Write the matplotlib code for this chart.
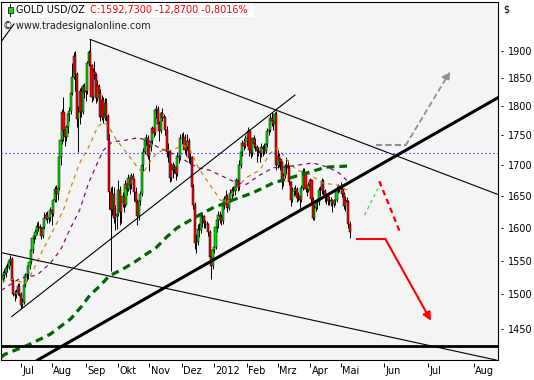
import numpy as np
import pandas as pd
import matplotlib
matplotlib.use("Agg")
import matplotlib.pyplot as plt
from matplotlib.ticker import NullLocator
from matplotlib.transforms import ScaledTranslation, blended_transform_factory
from matplotlib.lines import Line2D
from matplotlib.patches import Rectangle

plt.rcParams['font.family'] = ['DejaVu Sans']

# ---- daily bars 15.06.2011 .. 09.05.2012 (weekdays) ----
FIRST_DAY, LAST_DAY, ORIGIN_DAY = '2011-06-15', '2012-05-09', '2011-07-01'

opens = [
    1522, 1528, 1531, 1539, 1541, 1549, 1552, 1520, 1501, 1499, 1503, 1512,
    1501, 1485, 1489, 1514, 1529, 1530, 1542, 1548, 1566, 1585, 1587, 1593, 1603, 1601, 1599, 1588, 1601, 1615, 1620, 1614, 1615,
    1628, 1622, 1644, 1662, 1654, 1663, 1713, 1742, 1790, 1760, 1748, 1764, 1786, 1792, 1824, 1852, 1891, 1858, 1778, 1790, 1827, 1790, 1836,
    1825, 1827, 1877, 1898, 1873, 1817, 1862, 1856, 1815, 1836, 1823, 1782, 1812, 1780, 1806, 1783, 1742, 1657, 1628, 1653, 1616, 1619,
    1622, 1660, 1625, 1641, 1650, 1636, 1670, 1662, 1680, 1668, 1682, 1677, 1656, 1641, 1618, 1642, 1653, 1700, 1722, 1742, 1745,
    1716, 1731, 1740, 1762, 1754, 1793, 1795, 1770, 1758, 1788, 1780, 1782, 1760, 1722, 1723, 1680, 1700, 1693, 1697, 1686, 1716, 1713,
    1746, 1745, 1747, 1725, 1731, 1741, 1712, 1713, 1665, 1636, 1577, 1578, 1598, 1596, 1618, 1618, 1608, 1606, 1606, 1593, 1556, 1542,
    1566, 1570, 1601, 1612, 1620, 1617, 1610, 1636, 1645, 1650, 1631, 1645, 1655, 1660, 1658, 1665, 1676, 1665, 1700, 1722, 1738, 1732,
    1740, 1746, 1758, 1725, 1721, 1745, 1735, 1730, 1724, 1723, 1720, 1730, 1727, 1723, 1735, 1758, 1760, 1780, 1775, 1770, 1786,
    1700, 1715, 1710, 1705, 1672, 1683, 1699, 1700, 1696, 1673, 1643, 1658, 1658, 1662, 1647, 1650, 1643, 1663, 1690, 1685, 1661, 1660,
    1668, 1676, 1646, 1615, 1631, 1640, 1640, 1660, 1660, 1675, 1658, 1650, 1650, 1642, 1642, 1643, 1637, 1642, 1643, 1662, 1663,
    1664, 1662, 1653, 1635, 1643, 1640, 1606,
]
highs = [
    1534, 1538, 1543, 1546, 1553, 1558, 1555, 1524, 1506, 1508, 1516, 1517,
    1504, 1494, 1517, 1532, 1536, 1545, 1555, 1570, 1589, 1592, 1598, 1609, 1610, 1606, 1602, 1604, 1624, 1624, 1626, 1620, 1632,
    1631, 1646, 1667, 1668, 1683, 1720, 1782, 1796, 1816, 1765, 1768, 1792, 1799, 1830, 1877, 1898, 1900, 1862, 1800, 1832, 1835, 1840, 1842,
    1838, 1882, 1901, 1921, 1876, 1868, 1881, 1860, 1846, 1840, 1830, 1820, 1816, 1814, 1815, 1786, 1752, 1665, 1666, 1664, 1636, 1628,
    1676, 1666, 1646, 1656, 1657, 1676, 1677, 1685, 1684, 1687, 1688, 1678, 1664, 1646, 1646, 1658, 1706, 1728, 1748, 1752, 1750,
    1735, 1748, 1766, 1770, 1796, 1803, 1800, 1774, 1791, 1797, 1786, 1784, 1766, 1738, 1726, 1704, 1706, 1702, 1706, 1722, 1724, 1753,
    1755, 1756, 1752, 1735, 1752, 1746, 1720, 1716, 1670, 1640, 1590, 1606, 1608, 1622, 1625, 1620, 1612, 1610, 1608, 1596, 1560, 1570,
    1572, 1612, 1614, 1626, 1626, 1622, 1640, 1650, 1660, 1653, 1650, 1662, 1664, 1667, 1670, 1680, 1678, 1708, 1728, 1742, 1745, 1750,
    1752, 1764, 1761, 1730, 1748, 1750, 1745, 1734, 1730, 1727, 1738, 1734, 1738, 1740, 1762, 1765, 1786, 1790, 1778, 1790, 1792,
    1726, 1720, 1712, 1706, 1688, 1702, 1714, 1708, 1700, 1675, 1664, 1665, 1668, 1664, 1656, 1654, 1668, 1695, 1696, 1688, 1666, 1672,
    1680, 1678, 1648, 1636, 1644, 1646, 1664, 1666, 1680, 1678, 1662, 1655, 1654, 1650, 1648, 1645, 1645, 1650, 1666, 1670, 1668,
    1672, 1664, 1656, 1650, 1648, 1643, 1610,
]
lows = [
    1518, 1522, 1526, 1533, 1537, 1543, 1515, 1497, 1491, 1494, 1499, 1497,
    1480, 1482, 1486, 1510, 1520, 1523, 1538, 1545, 1562, 1577, 1583, 1590, 1595, 1592, 1582, 1585, 1598, 1612, 1608, 1607, 1611,
    1605, 1618, 1640, 1640, 1643, 1660, 1700, 1735, 1740, 1733, 1740, 1755, 1775, 1786, 1820, 1848, 1828, 1765, 1722, 1770, 1782, 1786, 1815,
    1810, 1822, 1872, 1842, 1808, 1812, 1848, 1806, 1810, 1812, 1774, 1776, 1772, 1776, 1775, 1725, 1630, 1535, 1620, 1608, 1596, 1598,
    1618, 1605, 1608, 1632, 1624, 1632, 1652, 1658, 1654, 1662, 1668, 1642, 1636, 1604, 1612, 1636, 1650, 1690, 1718, 1734, 1710,
    1690, 1724, 1735, 1748, 1750, 1780, 1762, 1740, 1754, 1774, 1768, 1750, 1714, 1706, 1672, 1675, 1680, 1688, 1676, 1682, 1704, 1708,
    1736, 1736, 1718, 1716, 1725, 1704, 1702, 1658, 1630, 1568, 1562, 1573, 1586, 1592, 1602, 1600, 1600, 1600, 1588, 1550, 1523, 1538,
    1562, 1568, 1594, 1600, 1608, 1604, 1606, 1630, 1638, 1624, 1628, 1640, 1645, 1650, 1652, 1660, 1658, 1660, 1696, 1715, 1725, 1728,
    1733, 1740, 1716, 1712, 1716, 1728, 1724, 1706, 1716, 1705, 1714, 1716, 1718, 1720, 1730, 1750, 1756, 1766, 1760, 1764, 1692,
    1696, 1698, 1692, 1662, 1666, 1680, 1686, 1690, 1668, 1635, 1640, 1650, 1652, 1640, 1642, 1628, 1640, 1660, 1680, 1656, 1650, 1656,
    1662, 1640, 1612, 1612, 1626, 1630, 1636, 1650, 1654, 1652, 1640, 1638, 1636, 1636, 1635, 1625, 1632, 1636, 1640, 1655, 1656,
    1655, 1648, 1630, 1626, 1632, 1600, 1585,
]
closes = [
    1528, 1531, 1539, 1541, 1549, 1552, 1520, 1501, 1499, 1503, 1512, 1501,
    1485, 1489, 1514, 1529, 1530, 1542, 1548, 1566, 1585, 1587, 1593, 1603, 1601, 1599, 1588, 1601, 1615, 1620, 1614, 1615, 1628,
    1622, 1644, 1662, 1654, 1663, 1713, 1742, 1790, 1760, 1748, 1764, 1786, 1792, 1824, 1852, 1891, 1858, 1778, 1790, 1827, 1790, 1836, 1825,
    1827, 1877, 1898, 1873, 1817, 1862, 1856, 1815, 1836, 1823, 1782, 1812, 1780, 1806, 1783, 1742, 1657, 1628, 1653, 1616, 1619, 1622,
    1660, 1625, 1641, 1650, 1636, 1670, 1662, 1680, 1668, 1682, 1677, 1656, 1641, 1618, 1642, 1653, 1700, 1722, 1742, 1745, 1716,
    1731, 1740, 1762, 1754, 1793, 1795, 1770, 1758, 1788, 1780, 1782, 1760, 1722, 1723, 1680, 1700, 1693, 1697, 1686, 1716, 1713, 1746,
    1745, 1747, 1725, 1731, 1741, 1712, 1713, 1665, 1636, 1577, 1578, 1598, 1596, 1618, 1618, 1608, 1606, 1606, 1593, 1556, 1542, 1566,
    1570, 1601, 1612, 1620, 1617, 1610, 1636, 1645, 1650, 1631, 1645, 1655, 1660, 1658, 1665, 1676, 1665, 1700, 1722, 1738, 1732, 1740,
    1746, 1758, 1725, 1721, 1745, 1735, 1730, 1724, 1723, 1720, 1730, 1727, 1723, 1735, 1758, 1760, 1780, 1775, 1770, 1786, 1700,
    1715, 1710, 1705, 1672, 1683, 1699, 1700, 1696, 1673, 1643, 1658, 1658, 1662, 1647, 1650, 1643, 1663, 1690, 1685, 1661, 1660, 1668,
    1676, 1646, 1615, 1631, 1640, 1640, 1660, 1660, 1675, 1658, 1650, 1650, 1642, 1642, 1643, 1637, 1642, 1643, 1662, 1663, 1664,
    1662, 1653, 1635, 1643, 1640, 1606, 1593,
]

# moving averages, read at some bars (bar number counted from 01.07.2011)
ma_green_x = [-13, -11, 5, 20, 34, 41, 47, 54, 60, 69, 76, 86, 92, 99, 106, 121, 130, 144, 157, 171, 189, 207, 223]
ma_green = [1411, 1415, 1428, 1443, 1465, 1482, 1499, 1513, 1527, 1537, 1546, 1561, 1570, 1586, 1600, 1620, 1631,
            1644, 1655, 1671, 1684, 1697, 1699]
ma_orange_x = [-13, -5, 3, 8, 15, 22, 29, 35, 40, 46, 52, 56, 60, 65, 72, 79, 83, 86, 91, 96, 103, 110, 115,
               120, 126, 132, 135, 140, 145, 153, 162, 169, 174, 178, 182, 187, 194, 205, 214, 221, 223]
ma_orange = [1519, 1522, 1516, 1533, 1566, 1596, 1628, 1671, 1704, 1730, 1764, 1773, 1764, 1742, 1720, 1697, 1687,
             1700, 1717, 1725, 1725, 1734, 1725, 1697, 1676, 1655, 1644, 1640, 1660, 1680, 1692, 1720, 1729, 1717,
             1704, 1692, 1687, 1671, 1668, 1660, 1657]
ma_purple_x = [-13, 0, 11, 20, 27, 33, 40, 46, 52, 56, 62, 71, 79, 86, 93, 101, 110, 120, 128, 135, 142, 147, 153,
               162, 171, 178, 187, 198, 208, 216, 222]
ma_purple = [1506, 1524, 1528, 1546, 1566, 1596, 1628, 1671, 1704, 1725, 1739, 1742, 1746, 1742, 1730, 1722, 1710,
             1696, 1692, 1684, 1676, 1671, 1669, 1684, 1696, 1697, 1700, 1704, 1697, 1687, 1673]

# drawn lines: (bar, price) anchors
down_line = [(47, 1921), (324, 1652)]
channel_line = [(-6.1, 1468), (185.8, 1820)]
corner_line = [(-12.9, 1918), (-4.5, 1950)]
low_line = [(-7, 1559), (169, 1476)]
up_trend = [(129, 1549), (300, 1781)]
support_level = 1427
dotted_level = 1720

# projections (dates after last bar)
green_proj = [('2012-05-19', 1620), ('2012-05-31', 1676)]
red_proj = [('2012-05-29', 1674), ('2012-06-12', 1593)]
red_arrow = [('2012-05-14', 1583), ('2012-06-02', 1583), ('2012-07-03', 1462)]
gray_arrow = [('2012-05-27', 1734), ('2012-06-16', 1734), ('2012-07-16', 1862)]

month_starts = ['2011-07-01', '2011-08-01', '2011-09-01', '2011-10-03', '2011-11-01', '2011-12-01', '2012-01-02',
                '2012-02-01', '2012-03-01', '2012-04-02', '2012-05-01', '2012-06-01', '2012-07-01', '2012-08-01']
month_labels = ['Jul', 'Aug', 'Sep', 'Okt', 'Nov', 'Dez', '2012', 'Feb', 'Mrz', 'Apr', 'Mai', 'Jun', 'Jul', 'Aug']
price_ticks = [1450, 1500, 1550, 1600, 1650, 1700, 1750, 1800, 1850, 1900]

days = pd.bdate_range(FIRST_DAY, LAST_DAY)
origin = days.get_loc(pd.Timestamp(ORIGIN_DAY))
last_bar = len(days) - 1 - origin


def bar_pos(day):
    d = pd.Timestamp(day)
    if d <= days[-1]:
        return days.get_loc(d) - origin
    # future area is in calendar days
    return last_bar + (d - days[-1]).days


fig = plt.figure(figsize=(5.34, 3.80), dpi=100)
ax = fig.add_axes([1.3 / 534, 20 / 380, 497 / 534, 358.3 / 380])
ax.set_facecolor('#F4F4F4')
ax.set_yscale('log')
ax.set_ylim(1407.4, 1992.5)
ax.set_xlim(-13.14, 323.6)
for s in ax.spines.values():
    s.set_linewidth(0.8)

# candles
o = np.array(opens, float)
h = np.array(highs, float)
l = np.array(lows, float)
c = np.array(closes, float)
x = np.arange(len(c)) - origin
up = c >= o
ax.vlines(x, l, h, color='black', lw=0.7, zorder=2)
ax.bar(x[up], (c - o)[up], bottom=o[up], width=1.45, color='#00E000', edgecolor='black', linewidth=0.35, zorder=3)
ax.bar(x[~up], (o - c)[~up], bottom=c[~up], width=1.45, color='#FF0000', edgecolor='black', linewidth=0.35, zorder=3)

# moving averages
ax.plot(ma_orange_x, ma_orange, color='#C88400', lw=0.85, dashes=(3.5, 3.5), zorder=4)
ax.plot(ma_purple_x, ma_purple, color='#800080', lw=0.85, dashes=(3.5, 3.5), zorder=4)
ax.plot(ma_green_x, ma_green, color='#006400', lw=2.3, dashes=(2.4, 1.6), zorder=4)

# trend lines
for seg in (down_line, channel_line, corner_line):
    ax.plot([p[0] for p in seg], [p[1] for p in seg], color='black', lw=0.8, zorder=5)
ax.axline(low_line[0], low_line[1], color='black', lw=0.8, zorder=5)
ax.axline(up_trend[0], up_trend[1], color='black', lw=2.2, zorder=5)
ax.axhline(support_level, color='black', lw=2.0, zorder=5)
ax.axhline(dotted_level, color='#0000CC', lw=0.8, dashes=(1, 2.6), zorder=5)

# projections
ax.plot([bar_pos(d) for d, _ in green_proj], [p for _, p in green_proj], color='#33CC33', lw=0.8,
        dashes=(3, 3), zorder=6)
ax.plot([bar_pos(d) for d, _ in red_proj], [p for _, p in red_proj], color='#FF0000', lw=1.6,
        dashes=(2.5, 1.8), zorder=6)
ax.plot([bar_pos(d) for d, _ in red_arrow[:2]], [p for _, p in red_arrow[:2]], color='#FF0000', lw=1.5, zorder=6)
ax.annotate('', xy=(bar_pos(red_arrow[2][0]), red_arrow[2][1]),
            xytext=(bar_pos(red_arrow[1][0]), red_arrow[1][1]),
            arrowprops=dict(arrowstyle='-|>', color='#FF0000', lw=1.5, mutation_scale=12,
                            shrinkA=0, shrinkB=0), zorder=6)
ax.plot([bar_pos(d) for d, _ in gray_arrow[:2]], [p for _, p in gray_arrow[:2]], color='#909090', lw=1.5,
        dashes=(3, 1.5), zorder=6)
ax.annotate('', xy=(bar_pos(gray_arrow[2][0]), gray_arrow[2][1]),
            xytext=(bar_pos(gray_arrow[1][0]), gray_arrow[1][1]),
            arrowprops=dict(arrowstyle='-|>', color='#909090', lw=1.3, mutation_scale=12,
                            linestyle=(0, (2.5, 2.5)), shrinkA=0, shrinkB=0), zorder=6)

# axes ticks
month_pos = [bar_pos(d) for d in month_starts]
ax.set_xticks(month_pos)
ax.set_xticklabels(month_labels, ha='left', fontsize=7)
ax.tick_params(axis='x', length=0, pad=4.5)
for lbl in ax.get_xticklabels():
    lbl.set_transform(lbl.get_transform() + ScaledTranslation(1.5 / 100, 0, fig.dpi_scale_trans))
tx = blended_transform_factory(ax.transData, ax.transAxes)
ax.vlines(month_pos, -7 / 358.3, -3 / 358.3, transform=tx, color='black', lw=0.7, clip_on=False)

ax.yaxis.tick_right()
ax.set_yticks(price_ticks)
ax.set_yticklabels([str(v) for v in price_ticks], fontsize=7)
ax.yaxis.set_minor_locator(NullLocator())
ax.tick_params(axis='y', length=0, pad=7)
ty = blended_transform_factory(ax.transAxes, ax.transData)
ax.hlines(price_ticks, 1 + 3 / 497, 1 + 5 / 497, transform=ty, color='black', lw=0.7, clip_on=False)
fig.text(503 / 534, 1 - 10 / 380, '$', fontsize=7, va='center')

# header
fig.add_artist(Rectangle((5 / 534, 1 - 17.3 / 380), 248 / 534, 14.6 / 380, transform=fig.transFigure,
                         facecolor='white', edgecolor='none', zorder=10))
fig.add_artist(Line2D([10.3 / 534, 10.3 / 534], [1 - 4 / 380, 1 - 16 / 380], transform=fig.transFigure,
                      color='black', lw=0.7, zorder=11))
fig.add_artist(Rectangle((8 / 534, 1 - 13 / 380), 4.7 / 534, 6 / 380, transform=fig.transFigure,
                         facecolor='#00E000', edgecolor='black', lw=0.5, zorder=12))
fig.text(16 / 534, 1 - 10 / 380, 'GOLD USD/OZ', fontsize=6.9, va='center', color='black', zorder=13)
fig.text(89.5 / 534, 1 - 10 / 380, 'C:1592,7300 -12,8700 -0,8016%', fontsize=6.9, va='center',
         color='#FF0000', zorder=13)
fig.text(3 / 534, 1 - 26 / 380, '\u00a9 www.tradesignalonline.com', fontsize=7, va='center',
         color='#202020', zorder=13)

fig.savefig('out.png', dpi=100, facecolor='white')
